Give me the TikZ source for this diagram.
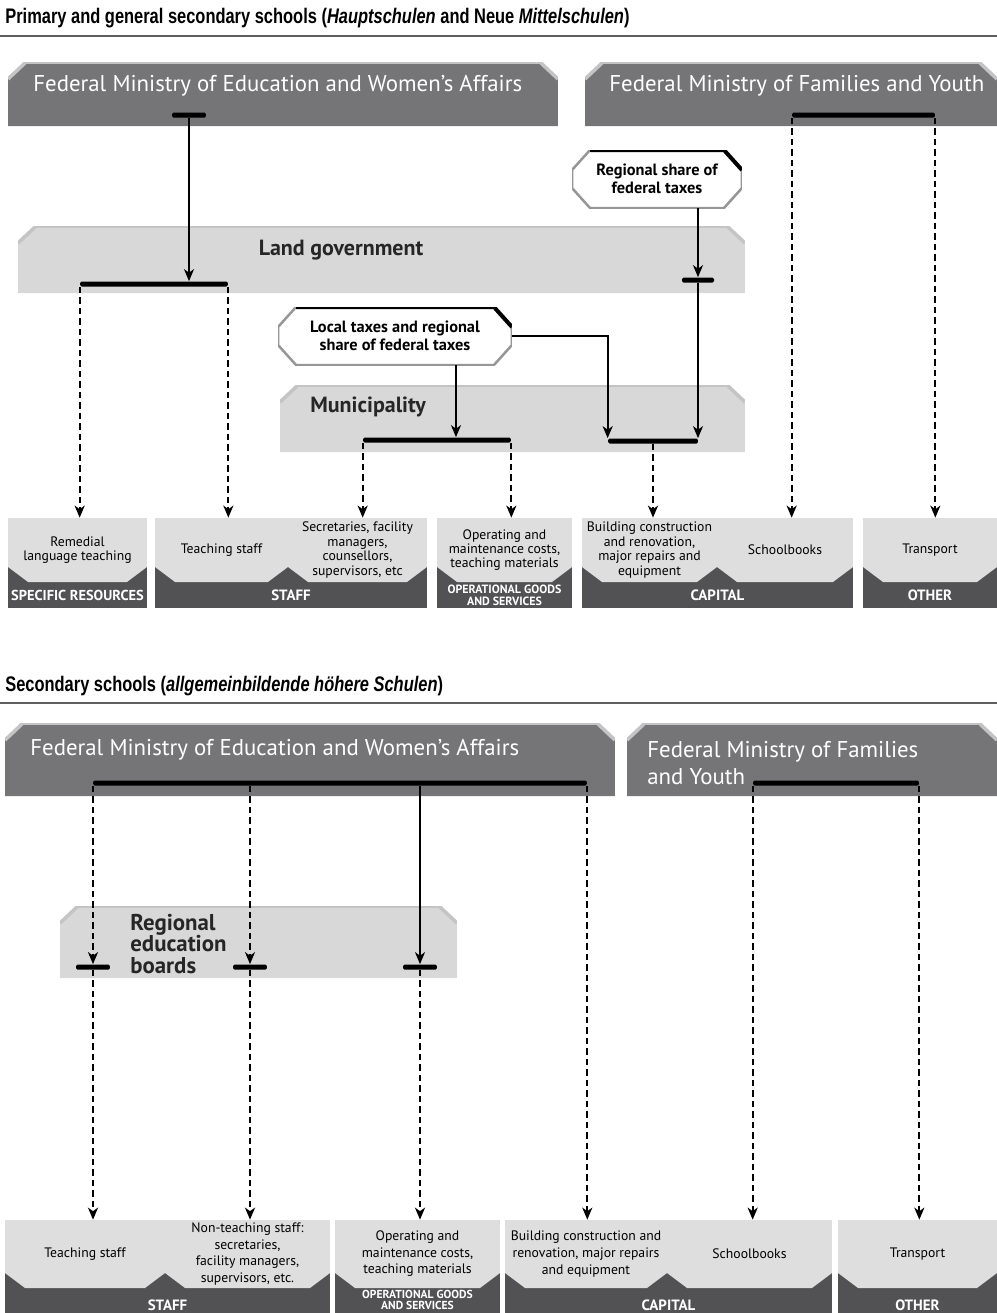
\documentclass[tikz,border=0pt]{standalone}
\usepackage{fontspec}
\setmainfont{PT Sans}
\newfontfamily\headfont[FakeStretch=0.78]{Liberation Sans}
\usetikzlibrary{arrows.meta}

\definecolor{ministrygray}{RGB}{117,117,119}
\definecolor{levelgray}{RGB}{216,216,217}
\definecolor{itemgray}{RGB}{222,222,223}
\definecolor{bandgray}{RGB}{82,82,84}
\definecolor{rimgray}{RGB}{196,196,198}
\definecolor{edgegray}{RGB}{150,150,152}
\definecolor{rulegray}{RGB}{95,95,95}

\tikzset{
  cuttop/.style={path picture={
      \fill[#1] ([yshift=-0.34cm]path picture bounding box.north west)
        -- ([xshift=0.36cm]path picture bounding box.north west)
        -- ([xshift=-0.36cm]path picture bounding box.north east)
        -- ([yshift=-0.34cm]path picture bounding box.north east)
        -- (path picture bounding box.south east)
        -- (path picture bounding box.south west) -- cycle;
      \draw[rimgray, line width=0.07cm]
        ([yshift=-0.34cm]path picture bounding box.north west)
        -- ([xshift=0.36cm]path picture bounding box.north west)
        -- ([xshift=-0.36cm]path picture bounding box.north east)
        -- ([yshift=-0.34cm]path picture bounding box.north east);
  }},
  octcut/.style={path picture={
      \fill[white, draw=edgegray, line width=0.05cm]
        ([yshift=-0.4cm]path picture bounding box.north west)
        -- ([xshift=0.36cm]path picture bounding box.north west)
        -- ([xshift=-0.36cm]path picture bounding box.north east)
        -- ([yshift=-0.4cm]path picture bounding box.north east)
        -- ([yshift=0.4cm]path picture bounding box.south east)
        -- ([xshift=-0.36cm]path picture bounding box.south east)
        -- ([xshift=0.36cm]path picture bounding box.south west)
        -- ([yshift=0.4cm]path picture bounding box.south west) -- cycle;
      \draw[black, line width=0.08cm]
        ([xshift=0.36cm]path picture bounding box.north west)
        -- ([xshift=-0.36cm]path picture bounding box.north east)
        -- ([yshift=-0.4cm]path picture bounding box.north east);
  }},
  itemcut/.style={path picture={
      \fill[bandgray] (path picture bounding box.south west) rectangle (path picture bounding box.north east);
      \fill[itemgray] (path picture bounding box.north west)
        -- (path picture bounding box.north east)
        -- ([yshift=0.3cm]path picture bounding box.south east)
        -- ([xshift=-0.4cm]path picture bounding box.south east)
        -- ([xshift=0.4cm]path picture bounding box.south west)
        -- ([yshift=0.3cm]path picture bounding box.south west) -- cycle;
  }},
}

\begin{document}
\begin{tikzpicture}[x=0.02cm, y=-0.02cm, >={Stealth[length=0.24cm,width=0.2cm,inset=0.07cm]}]
    \tikzstyle{headline} = [anchor=west, inner sep=0pt, font=\headfont\bfseries\fontsize{12}{14}\selectfont]
    \tikzstyle{ministry} = [cuttop=ministrygray, minimum height=1.28cm, inner sep=0pt]
    \tikzstyle{level} = [cuttop=levelgray, minimum height=1.34cm, inner sep=0pt]
    \tikzstyle{bosstext} = [anchor=west, text=white, inner sep=0pt, align=left, font=\fontsize{13}{13}\selectfont]
    \tikzstyle{leveltext} = [inner sep=0pt, text=black!85, align=left, font=\bfseries\fontsize{12.5}{14}\selectfont]
    \tikzstyle{boardtext} = [anchor=west, inner sep=0pt, text=black!85, align=left, font=\bfseries\fontsize{13}{12}\selectfont]
    \tikzstyle{taxbox} = [octcut, minimum height=1.16cm, inner sep=0pt, align=center, font=\bfseries\fontsize{9.3}{10.4}\selectfont]
    \tikzstyle{bar} = [fill=black, rounded corners=0.03cm, minimum height=0.1cm, inner sep=0pt]
    \tikzstyle{item} = [itemcut, minimum height=1.28cm, inner sep=0pt, align=center, font=\fontsize{7.8}{8.2}\selectfont]
    \tikzstyle{band} = [fill=bandgray, text=white, minimum height=0.52cm, inner sep=0pt, align=center, font=\bfseries\fontsize{8.5}{8.5}\selectfont]
    \tikzstyle{feed} = [->, line width=0.036cm]
    \tikzstyle{dfeed} = [->, line width=0.04cm, dash pattern=on 0.13cm off 0.08cm]

    \useasboundingbox (0,0) rectangle (997,1313);

    % Hauptschulen and Neue Mittelschulen
    \node[headline] (head1) at (5,18) {Primary and general secondary schools (\textit{Hauptschulen} and Neue \textit{Mittelschulen})};
    \draw[rulegray, line width=0.04cm] (0,36) -- (997,36);

    \node[ministry, minimum width=11cm] (edu1) at (283,94) {};
    \node[bosstext] (edu1text) at (33,86) {Federal Ministry of Education and Women's Affairs};
    \node[bar, minimum width=0.68cm] (edubar1) at (189,115) {};

    \node[ministry, minimum width=8.24cm] (fam1) at (791,94) {};
    \node[bosstext] (fam1text) at (609,86) {Federal Ministry of Families and Youth};
    \node[bar, minimum width=2.86cm] (fambar1) at (863.5,115) {};

    \node[taxbox, minimum width=3.4cm] (regshare) at (657,179) {Regional share of\\federal taxes};

    \node[level, minimum width=14.54cm] (land) at (381.5,259.5) {};
    \node[leveltext] (landtext) at (341,250) {Land government};
    \node[bar, minimum width=2.96cm] (landbarL) at (154,284) {};
    \node[bar, minimum width=0.64cm] (landbarR) at (698,280) {};

    \node[taxbox, minimum width=4.68cm] (loctax) at (395,336) {Local taxes and regional\\share of federal taxes};
    \coordinate (loctaxdrop) at ([xshift=1.22cm]loctax.south);

    \node[level, minimum width=9.3cm] (mun) at (512.5,418.5) {};
    \node[leveltext, anchor=west] (muntext) at (310,407) {Municipality};
    \node[bar, minimum width=2.96cm] (munbarL) at (437,440) {};
    \node[bar, minimum width=1.8cm] (munbarR) at (653,441) {};

    \node[band, minimum width=2.78cm, font=\bfseries\fontsize{8.2}{8.2}\selectfont] (specband) at (77.5,595) {SPECIFIC RESOURCES};
    \node[band, minimum width=5.44cm] (staffband1) at (291,595) {STAFF};
    \node[band, minimum width=2.7cm, font=\bfseries\fontsize{6.8}{6.8}\selectfont] (operband1) at (504.5,595) {OPERATIONAL GOODS\\AND SERVICES};
    \node[band, minimum width=5.42cm] (capband1) at (717.5,595) {CAPITAL};
    \node[band, minimum width=2.68cm] (otherband1) at (930,595) {OTHER};

    \node[item, minimum width=2.78cm] (remedial) at (77.5,550) {Remedial\\language teaching};
    \node[item, minimum width=2.66cm] (teach1) at (221.5,550) {Teaching staff};
    \node[item, minimum width=2.78cm] (secr1) at (357.5,550) {Secretaries, facility\\managers,\\counsellors,\\supervisors, etc};
    \node[item, minimum width=2.7cm] (oper1) at (504.5,550) {Operating and\\maintenance costs,\\teaching materials};
    \node[item, minimum width=2.7cm] (build1) at (649.5,550) {Building construction\\and renovation,\\major repairs and\\equipment};
    \node[item, minimum width=2.72cm] (books1) at (785,550) {Schoolbooks};
    \node[item, minimum width=2.68cm] (trans1) at (930,550) {Transport};

    \draw[feed] (edubar1.south) -- (edubar1.south |- landbarL.north);
    \draw[dfeed] (landbarL.south west) -- (landbarL.south west |- remedial.north);
    \draw[dfeed] (landbarL.south east) -- (landbarL.south east |- teach1.north);
    \draw[feed] (landbarR.north |- regshare.south) -- (landbarR.north);
    \draw[feed] (landbarR.south) -- (landbarR.south |- munbarR.north);
    \draw[feed] (loctaxdrop) -- (loctaxdrop |- munbarL.north);
    \draw[feed] (loctax.east) -| (munbarR.north west);
    \draw[dfeed] (munbarL.south west) -- (munbarL.south west |- secr1.north);
    \draw[dfeed] (munbarL.south east) -- (munbarL.south east |- oper1.north);
    \draw[dfeed] (munbarR.south) -- (munbarR.south |- build1.north);
    \draw[dfeed] (fambar1.south west) -- (fambar1.south west |- books1.north);
    \draw[dfeed] (fambar1.south east) -- (fambar1.south east |- trans1.north);

    % allgemeinbildende hoehere Schulen
    \node[headline] (head2) at (5,686) {Secondary schools (\textit{allgemeinbildende höhere Schulen})};
    \draw[rulegray, line width=0.04cm] (0,703) -- (997,703);

    \node[ministry, minimum width=12.2cm, minimum height=1.46cm] (edu2) at (310,759.5) {};
    \node[bosstext] (edu2text) at (30,750) {Federal Ministry of Education and Women's Affairs};
    \node[bar, minimum width=9.88cm] (edubar2) at (340,783) {};

    \node[ministry, minimum width=7.4cm, minimum height=1.46cm] (fam2) at (812,759.5) {};
    \node[bosstext, font=\fontsize{13}{15.5}\selectfont] (fam2text) at (647,763) {Federal Ministry of Families\\and Youth};
    \node[bar, minimum width=3.32cm] (fambar2) at (836,783) {};

    \node[level, minimum width=7.94cm, minimum height=1.44cm] (boards) at (258.5,942) {};
    \node[boardtext] (boardstext) at (130,944) {Regional\\education\\boards};
    \node[bar, minimum width=0.68cm] (bbarA) at (93,967) {};
    \node[bar, minimum width=0.68cm] (bbarB) at (250,967) {};
    \node[bar, minimum width=0.68cm] (bbarC) at (420,967) {};

    \node[band, minimum width=6.5cm, minimum height=0.68cm] (staffband2) at (167.5,1305) {STAFF};
    \node[band, minimum width=3.3cm, minimum height=0.8cm, font=\bfseries\fontsize{6.6}{6.6}\selectfont] (operband2) at (417.5,1300) {OPERATIONAL GOODS\\AND SERVICES};
    \node[band, minimum width=6.54cm, minimum height=0.68cm] (capband2) at (668.5,1305) {CAPITAL};
    \node[band, minimum width=3.18cm, minimum height=0.68cm] (otherband2) at (917.5,1305) {OTHER};

    \node[item, minimum width=3.2cm, minimum height=1.36cm, font=\fontsize{7.8}{9.4}\selectfont] (teach2) at (85,1254) {Teaching staff};
    \node[item, minimum width=3.3cm, minimum height=1.36cm, font=\fontsize{7.8}{9.4}\selectfont] (nonteach2) at (247.5,1254) {Non-teaching staff:\\secretaries,\\facility managers,\\supervisors, etc.};
    \node[item, minimum width=3.3cm, minimum height=1.36cm, font=\fontsize{7.8}{9.4}\selectfont] (oper2) at (417.5,1254) {Operating and\\maintenance costs,\\teaching materials};
    \node[item, minimum width=3.24cm, minimum height=1.36cm, font=\fontsize{7.8}{9.4}\selectfont] (build2) at (586,1254) {Building construction and\\renovation, major repairs\\and equipment};
    \node[item, minimum width=3.3cm, minimum height=1.36cm, font=\fontsize{7.8}{9.4}\selectfont] (books2) at (749.5,1254) {Schoolbooks};
    \node[item, minimum width=3.18cm, minimum height=1.36cm, font=\fontsize{7.8}{9.4}\selectfont] (trans2) at (917.5,1254) {Transport};

    \draw[dfeed] (bbarA.north |- edubar2.south) -- (bbarA.north);
    \draw[dfeed] (bbarA.south) -- (bbarA.south |- teach2.north);
    \draw[dfeed] (bbarB.north |- edubar2.south) -- (bbarB.north);
    \draw[dfeed] (bbarB.south) -- (bbarB.south |- nonteach2.north);
    \draw[feed] (bbarC.north |- edubar2.south) -- (bbarC.north);
    \draw[dfeed] (bbarC.south) -- (bbarC.south |- oper2.north);
    \draw[dfeed] (edubar2.south east) -- (edubar2.south east |- build2.north);
    \draw[dfeed] (fambar2.south west) -- (fambar2.south west |- books2.north);
    \draw[dfeed] (fambar2.south east) -- (fambar2.south east |- trans2.north);
\end{tikzpicture}
\end{document}
